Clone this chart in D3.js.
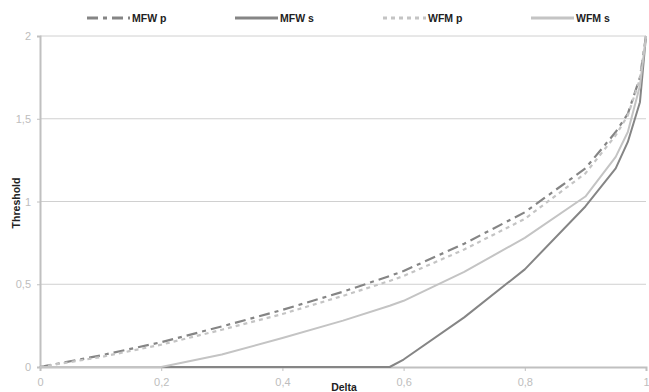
<!DOCTYPE html>
<html>
<head>
<meta charset="utf-8">
<script src="https://cdn.jsdelivr.net/npm/d3@7"></script>
<style>
  html, body { margin: 0; padding: 0; background: #fff; }
  svg { display: block; font-family: "Liberation Sans", Arial, sans-serif; }
</style>
</head>
<body>
<svg id="chart" width="649" height="392"></svg>
<script>
// ---- data ----
const delta = [0, 0.1, 0.2, 0.3, 0.4, 0.5, 0.577, 0.6, 0.7, 0.8, 0.9, 0.95, 0.97, 0.99, 1];
const mfwP  = [0, 0.07, 0.15, 0.245, 0.345, 0.455, 0.55, 0.58, 0.745, 0.935, 1.2, 1.42, 1.53, 1.75, 2];
const mfwS  = [0, 0, 0, 0, 0, 0, 0, 0.045, 0.30, 0.59, 0.97, 1.2, 1.36, 1.6, 2];
const wfmP  = [0, 0.06, 0.135, 0.225, 0.32, 0.43, 0.52, 0.55, 0.71, 0.895, 1.17, 1.40, 1.52, 1.74, 2];
const wfmS  = [0, 0, 0, 0.075, 0.175, 0.28, 0.37, 0.40, 0.575, 0.78, 1.03, 1.27, 1.42, 1.7, 2];
const seriesNames = ["MFW p", "MFW s", "WFM p", "WFM s"];
const xTicks = [0, 0.2, 0.4, 0.6, 0.8, 1];
const yTicks = [0, 0.5, 1, 1.5, 2];

const series = [
  { name: seriesNames[0], values: mfwP, color: "#858585", dash: "11,5,4,5", width: 2.2 },
  { name: seriesNames[1], values: mfwS, color: "#858585", dash: null, width: 2 },
  { name: seriesNames[2], values: wfmP, color: "#c4c4c4", dash: "4,4", width: 2.2 },
  { name: seriesNames[3], values: wfmS, color: "#c4c4c4", dash: null, width: 2 }
];

const svg = d3.select("#chart");
const fmt = d => String(d).replace(".", ",");

const x = d3.scaleLinear().domain([0, 1]).range([40, 646]);
const y = d3.scaleLinear().domain([0, 2]).range([367, 36]);

// gridlines
svg.append("g")
  .selectAll("line")
  .data(yTicks.filter(d => d > 0))
  .join("line")
  .attr("x1", x(0)).attr("x2", x(1))
  .attr("y1", d => y(d)).attr("y2", d => y(d))
  .attr("stroke", "#d0d0d0").attr("stroke-width", 1);

// x axis
const xAxis = svg.append("g")
  .attr("transform", `translate(0,${y(0)})`)
  .call(d3.axisBottom(x).tickValues(xTicks).tickFormat(fmt).tickSize(4).tickPadding(7));
xAxis.select(".domain").attr("stroke", "#c0c0c0").attr("stroke-width", 2);
xAxis.selectAll(".tick line").attr("stroke", "#c0c0c0");
xAxis.selectAll("text").attr("fill", "#bdbdbd").attr("font-size", 11)
  .attr("font-family", "Liberation Sans, Arial, sans-serif");

// y axis
const yAxis = svg.append("g")
  .attr("transform", `translate(${x(0)},0)`)
  .call(d3.axisLeft(y).tickValues(yTicks).tickFormat(fmt).tickSize(3).tickPadding(6));
yAxis.select(".domain").attr("stroke", "#c0c0c0").attr("stroke-width", 2);
yAxis.selectAll(".tick line").attr("stroke", "#c0c0c0");
yAxis.selectAll("text").attr("fill", "#bdbdbd").attr("font-size", 11)
  .attr("font-family", "Liberation Sans, Arial, sans-serif");

// lines
const line = d3.line()
  .x((d, i) => x(delta[i]))
  .y(d => y(d));

svg.append("g")
  .selectAll("path")
  .data(series)
  .join("path")
  .attr("d", s => line(s.values))
  .attr("fill", "none")
  .attr("stroke", s => s.color)
  .attr("stroke-width", s => s.width)
  .attr("stroke-dasharray", s => s.dash)
  .attr("stroke-linejoin", "round");

// legend
const legendX = [87, 235, 383, 531];
const lg = svg.append("g").selectAll("g").data(series).join("g")
  .attr("transform", (s, i) => `translate(${legendX[i]},18)`);
lg.append("line")
  .attr("x1", 0).attr("x2", 43).attr("y1", 0).attr("y2", 0)
  .attr("stroke", s => s.color)
  .attr("stroke-width", 3)
  .attr("stroke-dasharray", s => s.dash);
lg.append("text")
  .attr("x", 45).attr("y", 4)
  .attr("font-size", 10.5).attr("font-weight", "bold").attr("fill", "#222")
  .text(s => s.name);

// axis titles
svg.append("text")
  .attr("x", 344).attr("y", 391)
  .attr("text-anchor", "middle")
  .attr("font-size", 10.5).attr("font-weight", "bold").attr("fill", "#222")
  .text("Delta");
svg.append("text")
  .attr("transform", "translate(20,203) rotate(-90)")
  .attr("text-anchor", "middle")
  .attr("font-size", 10.5).attr("font-weight", "bold").attr("fill", "#222")
  .text("Threshold");
</script>
</body>
</html>
